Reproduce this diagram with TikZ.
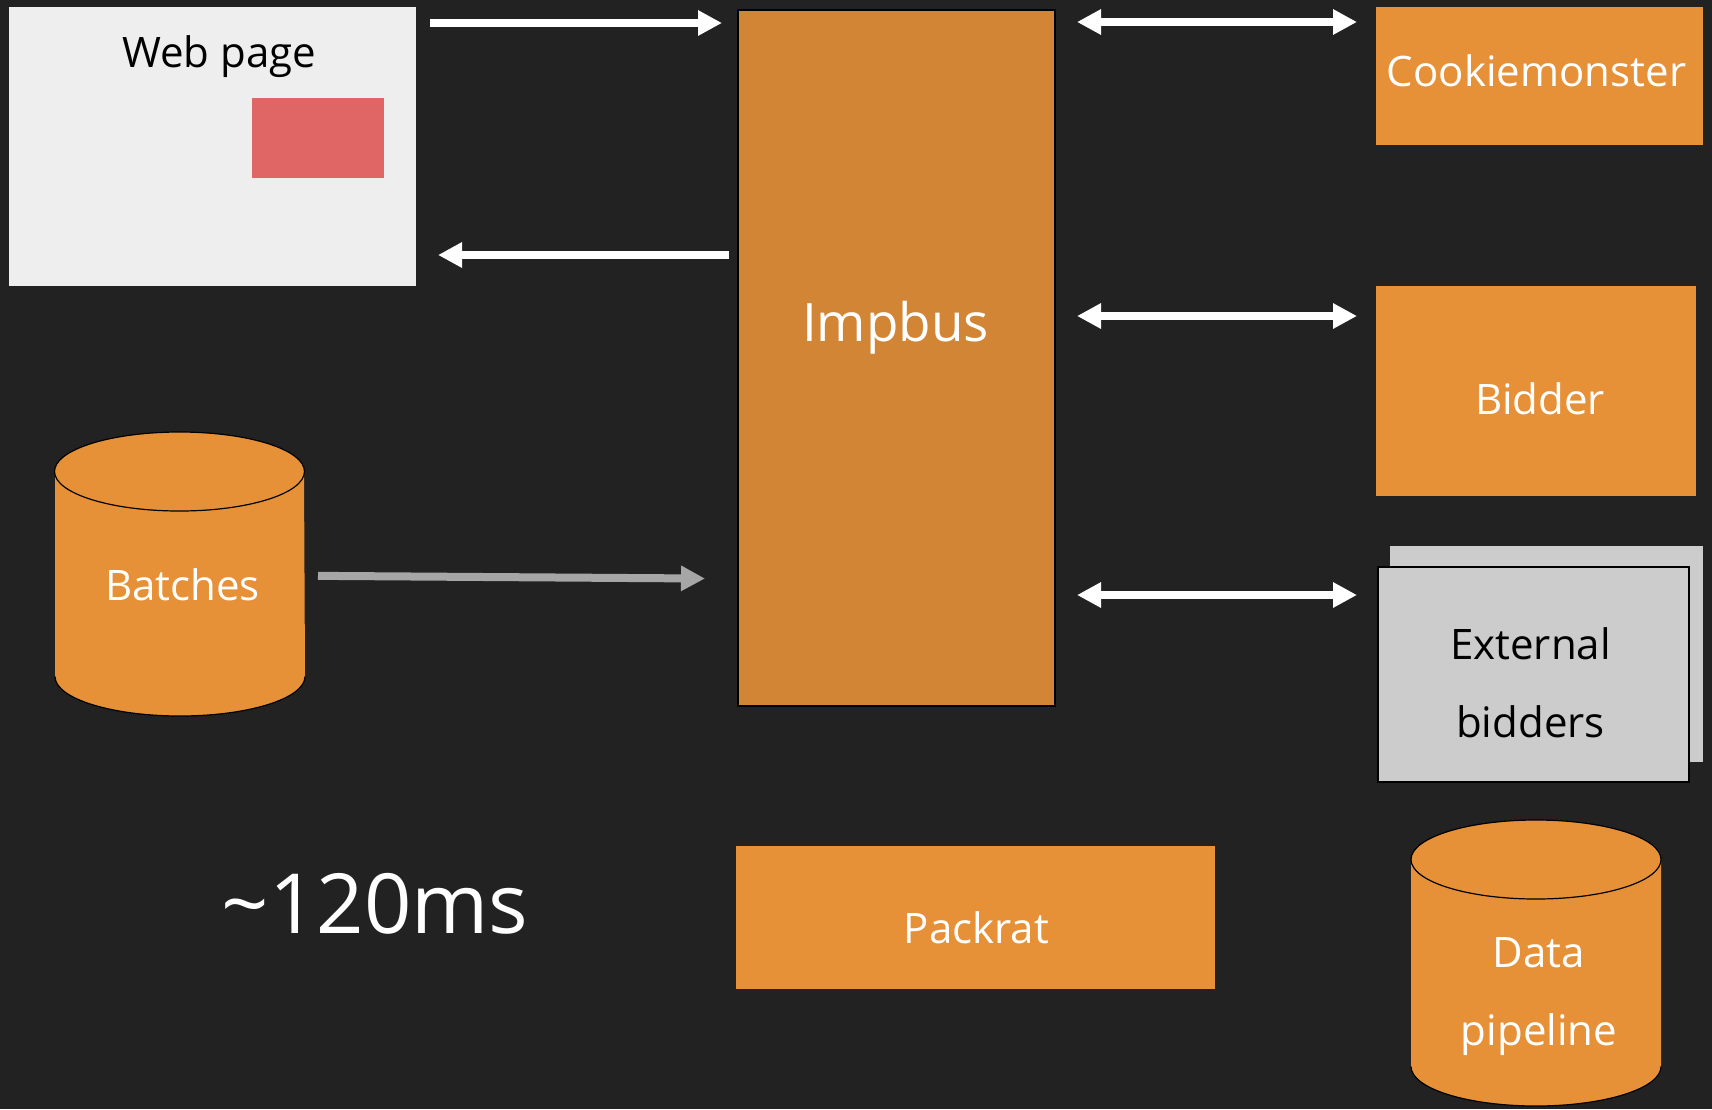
\documentclass[tikz,border=0pt]{standalone}
\usepackage{fontspec}
\setmainfont{Open Sans}
\usetikzlibrary{arrows.meta}

\definecolor{bgdark}{HTML}{222222}
\definecolor{boxorange}{HTML}{E69138}
\definecolor{busorange}{HTML}{D18535}
\definecolor{pagegray}{HTML}{EEEEEE}
\definecolor{adred}{HTML}{E06666}
\definecolor{extgray}{HTML}{CCCCCC}
\definecolor{feedgray}{HTML}{A6A6A6}

\pgfdeclarelayer{back}
\pgfsetlayers{back,main}

\tikzset{
  box/.style={rectangle, inner sep=0pt, outer sep=0pt},
  svc/.style={box, fill=boxorange},
  lbl/.style={inner sep=0pt, align=center, text=white, font=\fontsize{42}{78}\selectfont},
  dark/.style={lbl, text=black},
  tip/.tip={Triangle[length=24pt, width=24pt]},
  arr/.style={draw=white, line width=8pt, -tip},
  dbl/.style={arr, tip-tip},
  feed/.style={arr, draw=feedgray, -{Triangle[length=24pt, width=24pt, fill=feedgray]}},
}

\begin{document}
\begin{tikzpicture}[x=1pt, y=1pt]
    \begin{pgfonlayer}{back}
        \fill[bgdark] (0,0) rectangle (1712,-1109);
    \end{pgfonlayer}
    \useasboundingbox (0,0) rectangle (1712,-1109);

    % Web page with ad slot
    \node[box, fill=pagegray, minimum width=407pt, minimum height=279pt,
        label={[name=webtitle, dark, shift={(6.5,90)}]center:Web page}] (web) at (212.5,-146.5) {};
    \node[box, fill=adred, minimum width=132pt, minimum height=80pt] (ad) at (318,-138) {};

    % Impbus
    \node[box, fill=busorange, draw=black, line width=2.5pt, minimum width=317pt, minimum height=696pt,
        label={[name=impbuslabel, lbl, font=\fontsize{53}{60}\selectfont, shift={(-1,30)}]center:Impbus}] (impbus) at (896.5,-358) {};

    % Right-hand services
    \node[svc, minimum width=327pt, minimum height=138pt,
        label={[name=cookielabel, lbl, shift={(-3,5.5)}]center:Cookiemonster}] (cookie) at (1539.5,-76) {};
    \node[svc, minimum width=320pt, minimum height=210pt,
        label={[name=bidderlabel, lbl, shift={(4,-7.6)}]center:Bidder}] (bidder) at (1536,-391) {};
    \node[box, fill=extgray, minimum width=313pt, minimum height=216pt] (extback) at (1546.5,-654) {};
    \node[box, fill=extgray, draw=black, line width=2.5pt, minimum width=311pt, minimum height=215pt,
        label={[name=extlabel, dark, shift={(-3,-8.7)}]center:{External\\bidders}}] (ext) at (1533.5,-674.5) {};

    % Bottom row
    \node[svc, minimum width=479pt, minimum height=143pt,
        label={[name=packratlabel, lbl, shift={(1,-9.8)}]center:Packrat}] (packrat) at (975.5,-917.5) {};
    \node[lbl, font=\fontsize{83}{90}\selectfont] (latency) at (375,-904) {\textasciitilde120ms};

    % Data stores (node = body below top ellipse)
    \node[box, minimum width=249pt, minimum height=244.5pt,
        label={[name=batcheslabel, lbl, shift={(3,8.7)}]center:Batches}] (batches) at (179.5,-593.75) {};
    \node[box, minimum width=250pt, minimum height=246.5pt,
        label={[name=pipelinelabel, lbl, shift={(3,-13.6)}]center:{Data\\pipeline}}] (pipeline) at (1536,-982.75) {};
    \begin{pgfonlayer}{back}
        \foreach \c in {batches, pipeline} {
            \fill[boxorange] (\c.north west) -- ([yshift=39.5pt]\c.south west)
                arc (180:360:125 and 39.5) -- (\c.north east) -- cycle;
            \draw[black, line width=1.2pt] ([yshift=39.5pt]\c.south west) arc (180:360:125 and 39.5);
            \filldraw[fill=boxorange, draw=black, line width=1.2pt] (\c.north) ellipse (125 and 39.5);
        }
    \end{pgfonlayer}

    % Connectors
    \draw[arr, shorten <=14pt, shorten >=16pt] ([yshift=-16pt]web.north east) -- ([yshift=-16pt]web.north east -| impbus.west);
    \draw[arr, shorten <=9pt, shorten >=22pt] ([yshift=31pt]web.south east -| impbus.west) -- ([yshift=31pt]web.south east);
    \draw[dbl, shorten <=22pt, shorten >=19pt] ([yshift=-15pt]cookie.north west -| impbus.east) -- ([yshift=-15pt]cookie.north west);
    \draw[dbl, shorten <=22pt, shorten >=19pt] ([yshift=-30pt]bidder.north west -| impbus.east) -- ([yshift=-30pt]bidder.north west);
    \draw[dbl, shorten <=22pt, shorten >=21pt] ([yshift=-28pt]ext.north west -| impbus.east) -- ([yshift=-28pt]ext.north west);
    \draw[feed, shorten <=14pt, shorten >=33pt] ([yshift=18pt]batches.east) -- ([yshift=15pt]batches.east -| impbus.west);
\end{tikzpicture}
\end{document}
